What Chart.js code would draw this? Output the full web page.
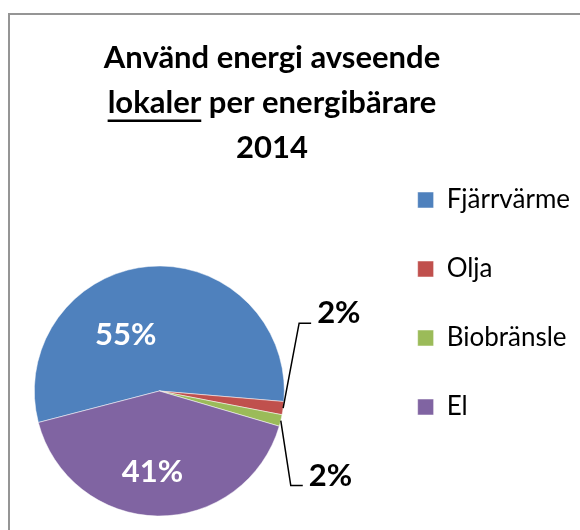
<!DOCTYPE html>
<html>
<head>
<meta charset="utf-8">
<script src="https://cdn.jsdelivr.net/npm/chart.js@4.4.1/dist/chart.umd.min.js"></script>
<style>
  html, body { margin: 0; padding: 0; width: 580px; height: 530px; overflow: hidden; background: #fff; }
  /* ramen runt diagrammet, bara övre och vänstra kanten syns */
  #ram { position: absolute; left: 8px; top: 13px; width: 800px; height: 800px;
         border-top: 2px solid #959595; border-left: 2px solid #959595; }
  #diagram { position: absolute; left: -56px; top: 10px; }
</style>
</head>
<body>
<div id="ram"></div>
<canvas id="diagram" width="636" height="587"></canvas>
<script>
// Använd energi för lokaler per energibärare 2014 (andel i procent)
var kategorier = ['Fjärrvärme', 'Olja', 'Biobränsle', 'El'];
var andelar = [55.4, 1.7, 1.5, 41.4];
var farger = ['#4F81BD', '#C0504D', '#9BBB59', '#8064A2'];

var titelRader = ['Använd energi avseende', 'lokaler per energibärare', '2014'];
var understruketOrd = 'lokaler';

// var procentetiketterna hamnar (inne i sektorn eller utanför med linje)
var etikettLage = [
    { inne: true, vridning: -26, avstand: 0.525 },
    { inne: false, knaX: 16, knaY: -85 },
    { inne: false, knaX: 10, knaY: 65 },
    { inne: true, vridning: 4, avstand: 0.65 }
];

var titelStorlek = 31;
var titelRadhojd = 45;
var titelForskjutning = 10; // titeln står lite till höger om diagrammets mitt

Chart.defaults.font.family = 'Lato';
Chart.defaults.color = '#000';

// Ritar procenttal på/bredvid varje sektor
var procentEtiketter = {
    id: 'procentEtiketter',
    afterDatasetsDraw: function(chart) {
        var ctx = chart.ctx;
        var meta = chart.getDatasetMeta(0);
        var total = andelar.reduce(function(a, b) { return a + b; }, 0);
        ctx.save();
        ctx.font = 'bold 31px Lato';
        meta.data.forEach(function(arc, i) {
            var p = arc.getProps(['x', 'y', 'startAngle', 'endAngle', 'outerRadius'], true);
            var mitt = (p.startAngle + p.endAngle) / 2;
            var text = Math.round(andelar[i] / total * 100) + '%';
            var lage = etikettLage[i];
            if (lage.inne) {
                var v = mitt + lage.vridning * Math.PI / 180;
                var r = p.outerRadius * lage.avstand;
                ctx.fillStyle = '#fff';
                ctx.textAlign = 'center';
                ctx.textBaseline = 'middle';
                ctx.fillText(text, p.x + Math.cos(v) * r, p.y + Math.sin(v) * r);
            } else {
                var kx = p.x + Math.cos(mitt) * p.outerRadius;
                var ky = p.y + Math.sin(mitt) * p.outerRadius;
                var ex = kx + lage.knaX;
                var ey = ky + lage.knaY;
                ctx.strokeStyle = '#000';
                ctx.lineWidth = 1.5;
                ctx.beginPath();
                ctx.moveTo(kx, ky);
                ctx.lineTo(ex, ey);
                ctx.lineTo(ex + 12, ey);
                ctx.stroke();
                ctx.fillStyle = '#000';
                ctx.textAlign = 'left';
                ctx.textBaseline = 'alphabetic';
                ctx.fillText(text, ex + 18, ey);
            }
        });
        ctx.restore();
    }
};

// Flyttar titeln och stryker under ordet "lokaler" i andra raden
var titelHjalp = {
    id: 'titelHjalp',
    afterLayout: function(chart) {
        chart.titleBlock.left += titelForskjutning;
        chart.titleBlock.right += titelForskjutning;
    },
    afterDraw: function(chart) {
        var tb = chart.titleBlock;
        var ctx = chart.ctx;
        var pad = chart.options.plugins.title.padding;
        ctx.save();
        ctx.font = 'bold ' + titelStorlek + 'px Lato';
        var helBredd = ctx.measureText(titelRader[1]).width;
        var ordBredd = ctx.measureText(understruketOrd).width;
        var cx = (tb.left + tb.right) / 2;
        var y = tb.top + pad.top + titelRadhojd * 1.5 + 17;
        ctx.fillStyle = '#000';
        ctx.fillRect(cx - helBredd / 2, y, ordBredd, 2.5);
        ctx.restore();
    }
};

new Chart(document.getElementById('diagram'), {
    type: 'pie',
    data: {
        labels: kategorier,
        datasets: [{
            data: andelar,
            backgroundColor: farger,
            borderColor: 'rgba(255,255,255,0.5)',
            borderWidth: 1
        }]
    },
    options: {
        responsive: false,
        animation: false,
        events: [],
        rotation: 255.4,
        radius: 125,
        layout: { padding: 0 },
        plugins: {
            title: {
                display: true,
                text: titelRader,
                font: { size: titelStorlek, weight: 'bold', lineHeight: titelRadhojd / titelStorlek },
                color: '#000',
                padding: { top: 25, bottom: 15 }
            },
            legend: {
                position: 'right',
                align: 'center',
                labels: {
                    font: { size: 26 },
                    color: '#000',
                    boxWidth: 16,
                    boxHeight: 16,
                    padding: 43
                }
            },
            tooltip: { enabled: false }
        }
    },
    plugins: [procentEtiketter, titelHjalp]
});
</script>
</body>
</html>
